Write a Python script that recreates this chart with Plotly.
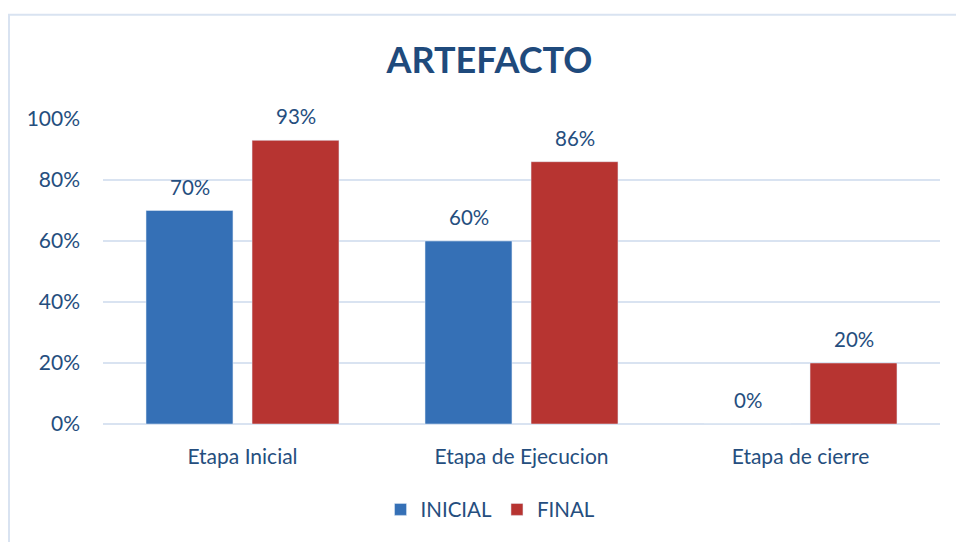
import plotly.graph_objects as go

categories = ["Etapa Inicial", "Etapa de Ejecucion", "Etapa de cierre"]
inicial = [0.70, 0.60, 0.00]
final = [0.93, 0.86, 0.20]
tick_vals = [0, 0.2, 0.4, 0.6, 0.8, 1.0]
tick_text = ["0%", "20%", "40%", "60%", "80%", "100%"]

txt = "#254E7E"
font = "Lato, 'Open Sans', sans-serif"

fig = go.Figure()
fig.add_trace(go.Bar(name="INICIAL", x=categories, y=inicial, marker=dict(color="#3570B6")))
fig.add_trace(go.Bar(name="FINAL", x=categories, y=final, marker=dict(color="#B73431")))

annotations = []
for series, shift in ((inicial, -53), (final, 53)):
    for c, v in zip(categories, series):
        annotations.append(dict(x=c, y=v, xref="x", yref="y", text=f"{v*100:.0f}%",
                                showarrow=False, xshift=shift, yshift=24, yanchor="middle",
                                font=dict(size=20.5, color=txt, family=font)))

T, B = 119, 113
H = 542 - T - B

fig.update_layout(
    width=956, height=542,
    margin=dict(l=103, r=16, t=T, b=B),
    paper_bgcolor="white", plot_bgcolor="white",
    barmode="group", bargap=0.24, bargroupgap=0.18,
    title=dict(text="<b>ARTEFACTO</b>", x=0.512, xanchor="center", y=0.888, yanchor="middle",
               font=dict(size=36, color="#1F4A7C", family=font)),
    font=dict(family=font, color=txt, size=20),
    showlegend=True,
    legend=dict(orientation="h", x=0.463, xanchor="center", y=-0.215, yanchor="top",
                font=dict(size=20.5, color=txt, family=font), itemwidth=30),
    xaxis=dict(showgrid=False, showline=False, tickfont=dict(size=21, color=txt), ticks="",
               ticklabelstandoff=18, automargin=False),
    yaxis=dict(range=[0, 1.0], tickvals=tick_vals, ticktext=tick_text,
               showgrid=True, gridcolor="#D9E3F1", gridwidth=2,
               zeroline=True, zerolinecolor="#D9E3F1", zerolinewidth=2,
               tickfont=dict(size=21, color=txt), ticks="", ticklabelstandoff=22,
               automargin=False),
    annotations=annotations,
    shapes=[dict(type="rect", xref="paper", yref="paper",
                 x0=(9 - 103) / 837, x1=1.3, y0=-0.6, y1=1 + (T - 13) / H,
                 line=dict(color="#D9E3F1", width=2), fillcolor="rgba(0,0,0,0)", layer="below")],
)

fig.write_html("out.html")
